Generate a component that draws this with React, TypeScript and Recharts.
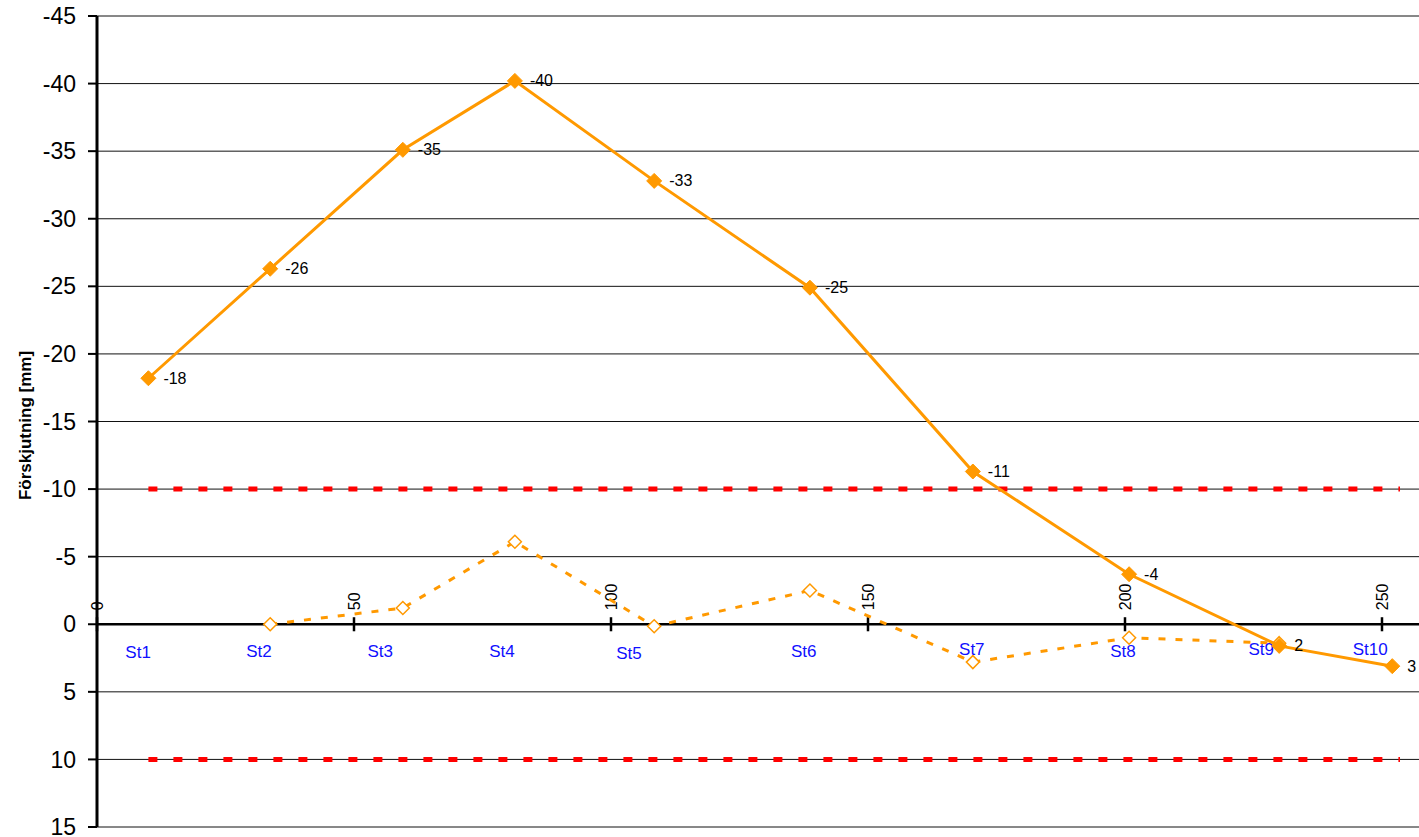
import { ScatterChart, Scatter, XAxis, YAxis, CartesianGrid, ReferenceLine, LabelList } from "recharts";

const stations = ["St1", "St2", "St3", "St4", "St5", "St6", "St7", "St8", "St9", "St10"];
const stationX = [10, 33.7, 59.5, 81.3, 108.4, 138.7, 170.4, 200.8, 230, 252];
const measured = [-18.2, -26.3, -35.1, -40.2, -32.8, -24.9, -11.3, -3.7, 1.6, 3.1];

// second series starts at St2 and stops at St9
const previousX = [33.7, 59.5, 81.3, 108.4, 138.7, 170.4, 200.8, 230];
const previous = [0, -1.2, -6.1, 0.15, -2.5, 2.8, 1.0, 1.4];

// where the station names sit
const nameX = [8.0, 31.5, 55.1, 78.8, 103.5, 137.5, 170.2, 199.6, 226.5, 247.7];
const nameY = [2.1, 2.0, 2.0, 2.0, 2.2, 2.0, 1.9, 2.0, 1.9, 1.9];

const limits = [-10, 10];
const limitFrom = 10;
const limitTo = 253.5;

const xTicks = [0, 50, 100, 150, 200, 250];
const yTicks = [-45, -40, -35, -30, -25, -20, -15, -10, -5, 0, 5, 10, 15];

const FONT = "'Liberation Sans', Arial, sans-serif";
const ORANGE = "#FF9900";

const measuredData = stationX.map((x, i) => ({ x, y: measured[i] }));
const previousData = previousX.map((x, i) => ({ x, y: previous[i] }));
const nameData = nameX.map((x, i) => ({ x, y: nameY[i], name: stations[i] }));

function Diamond(props: any) {
  const { cx, cy, open } = props;
  const r = open ? 6.5 : 7.5;
  const pts = `${cx},${cy - r} ${cx + r},${cy} ${cx},${cy + r} ${cx - r},${cy}`;
  return open ? (
    <polygon points={pts} fill="#fff" stroke={ORANGE} strokeWidth={1.5} />
  ) : (
    <polygon points={pts} fill={ORANGE} stroke={ORANGE} strokeWidth={1} />
  );
}

function StationName(props: any) {
  const { cx, cy, payload } = props;
  return (
    <text x={cx} y={cy} textAnchor="middle" dominantBaseline="central" fill="#1010FF" fontSize={17} fontFamily={FONT}>
      {payload.name}
    </text>
  );
}

function XTickLabel(props: any) {
  const { viewBox, value } = props;
  const x = viewBox.x;
  const y = viewBox.y - 7;
  return (
    <text x={x} y={y} dy="0.36em" transform={`rotate(-90, ${x}, ${y})`} textAnchor="start" fill="#000" fontSize={16} fontFamily={FONT}>
      {value}
    </text>
  );
}

function ValueLabel(props: any) {
  const { x, y, width, height, value } = props;
  return (
    <text x={x + width / 2 + 15} y={y + height / 2} dominantBaseline="central" fill="#000" fontSize={16} fontFamily={FONT}>
      {Math.round(value)}
    </text>
  );
}

function YTitle(props: any) {
  const { viewBox } = props;
  const x = viewBox.x + 25;
  const y = viewBox.y + viewBox.height / 2 + 4;
  return (
    <text x={x} y={y} transform={`rotate(-90, ${x}, ${y})`} textAnchor="middle" dominantBaseline="central" fontWeight="bold" fontSize={17} fontFamily={FONT} fill="#000">
      Förskjutning [mm]
    </text>
  );
}

export default function App() {
  return (
    <div style={{ width: 1419, height: 837, background: "#fff" }}>
      <style>{"body{margin:0}"}</style>
      <ScatterChart width={1419} height={837} margin={{ top: 16, right: 0, bottom: 10, left: 0 }}>
        <CartesianGrid horizontal vertical={false} stroke="#111" strokeWidth={1} />
        <XAxis type="number" dataKey="x" domain={[0, 257.2]} hide allowDataOverflow />
        <YAxis
          type="number"
          dataKey="y"
          domain={[-45, 15]}
          reversed
          ticks={yTicks}
          interval={0}
          width={97}
          tickSize={9}
          tickMargin={12}
          axisLine={{ stroke: "#000", strokeWidth: 3 }}
          tickLine={{ stroke: "#000", strokeWidth: 2 }}
          tick={{ fill: "#000", fontSize: 23, fontFamily: FONT }}
          allowDataOverflow
          label={<YTitle />}
        />
        {limits.map((v) => (
          <ReferenceLine
            key={v}
            segment={[{ x: limitFrom, y: v }, { x: limitTo, y: v }]}
            stroke="#FF0000"
            strokeWidth={5}
            strokeDasharray="9 16"
          />
        ))}
        <ReferenceLine y={0} stroke="#000" strokeWidth={2.5} />
        {xTicks.map((t) => (
          <ReferenceLine
            key={t}
            segment={[{ x: t, y: -0.52 }, { x: t, y: 0.52 }]}
            stroke="#000"
            strokeWidth={2.5}
            ifOverflow="visible"
            label={<XTickLabel value={t} />}
          />
        ))}
        <Scatter
          data={previousData}
          line={{ stroke: ORANGE, strokeWidth: 3, strokeDasharray: "7 10" }}
          shape={<Diamond open />}
          isAnimationActive={false}
        />
        <Scatter data={nameData} shape={<StationName />} isAnimationActive={false} />
        <Scatter
          data={measuredData}
          line={{ stroke: ORANGE, strokeWidth: 3 }}
          shape={<Diamond />}
          isAnimationActive={false}
        >
          <LabelList dataKey="y" content={<ValueLabel />} />
        </Scatter>
      </ScatterChart>
    </div>
  );
}
